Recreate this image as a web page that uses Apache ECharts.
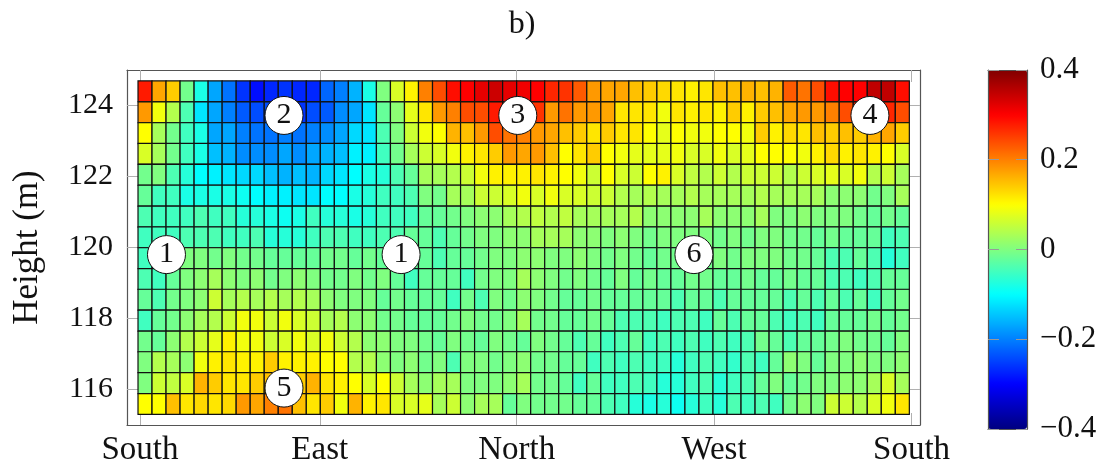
<!DOCTYPE html>
<html><head><meta charset="utf-8">
<script src="https://cdn.jsdelivr.net/npm/echarts@6/dist/echarts.min.js"></script>
<style>html,body{margin:0;padding:0;background:#fff}#c{width:1108px;height:467px}</style>
</head><body><div id="c"></div>
<script>
// Row centre heights (m), top row first
const heights = [124.40, 123.81, 123.22, 122.64, 122.05, 121.46, 120.87, 120.29,
                 119.70, 119.11, 118.53, 117.94, 117.35, 116.77, 116.18, 115.59];
const rowHeight = 0.587;
// values per row, 55 columns (South -> East -> North -> West -> South)
const row_124_40 = [.28,.17,.14,-.01,-.08,-.17,-.21,-.26,-.29,-.27,-.26, -.27,-.27,-.22,-.20,-.16,-.08,0,.07,.11,.20,.24, .29,.30,.32,.34,.32,.31,.30,.27,.26,.23,.18, .17,.17,.15,.14,.13,.12,.11,.12,.15,.15,.16, .15,.16,.23,.21,.24,.29,.30,.30,.35,.35,.29];
const row_123_81 = [.18,.09,.04,-.04,-.12,-.17,-.20,-.23,-.24,-.24,-.23, -.26,-.24,-.23,-.19,-.17,-.12,-.02,.01,.08,.12,.18, .20,.24,.24,.28,.27,.26,.26,.18,.21,.18,.18, .17,.12,.12,.12,.09,.12,.11,.12,.11,.14,.11, .14,.15,.17,.18,.18,.20,.24,.27,.27,.27,.24];
const row_123_22 = [.10,.03,-.01,-.05,-.08,-.17,-.17,-.20,-.21,-.21,-.20, -.21,-.20,-.19,-.17,-.13,-.12,-.04,0,.06,.09,.10, .16,.15,.18,.24,.21,.20,.18,.17,.15,.14,.12, .14,.12,.12,.10,.08,.10,.09,.09,.10,.10,.09, .14,.11,.13,.12,.15,.14,.15,.14,.16,.17,.14];
const row_122_64 = [.07,.03,-.01,-.05,-.08,-.15,-.16,-.19,-.19,-.19,-.17, -.19,-.17,-.16,-.15,-.11,-.11,-.05,-.01,.03,.06,.07, .09,.11,.12,.14,.18,.17,.18,.15,.10,.12,.14, .10,.09,.08,.08,.08,.09,.07,.07,.09,.07,.08, .10,.10,.10,.09,.11,.13,.11,.12,.11,.10,.07];
const row_122_05 = [-.01,0,-.04,-.07,-.10,-.11,-.12,-.13,-.13,-.15,-.16, -.15,-.16,-.13,-.12,-.10,-.08,-.07,-.04,-.02,.03,.03, .04,.06,.09,.11,.11,.11,.12,.11,.10,.09,.06, .10,.07,.06,.10,.11,.07,.05,.04,.06,.04,.06, .06,.06,.04,.06,.07,.08,.07,.09,.04,.06,.03];
const row_121_46 = [-.02,-.05,-.05,-.08,-.08,-.08,-.08,-.09,-.10,-.11,-.11, -.12,-.12,-.10,-.10,-.08,-.07,-.05,-.05,-.04,0,-.01, .03,.03,.06,.06,.07,.09,.07,.09,.07,.07,.06, .06,.04,.03,.04,.03,.03,.04,.03,.03,.03,.03, .04,.03,.03,.03,.03,.01,.01,.01,-.01,0,.03];
const row_120_87 = [-.04,-.05,-.05,-.05,-.04,-.05,-.05,-.07,-.07,-.08,-.09, -.08,-.05,-.07,-.07,-.08,-.07,-.05,-.05,-.05,-.02,-.02, -.01,0,.01,.01,.03,.04,.05,.04,.05,.03,.03, .03,.03,.04,.01,.01,.01,.01,.03,.01,.01,.01, .03,0,0,.01,0,0,0,-.01,-.02,-.01,-.02];
const row_120_29 = [-.05,-.05,-.05,-.04,-.04,-.04,-.05,-.05,-.04,-.07,-.07, -.07,-.05,-.04,-.04,-.05,-.05,-.04,-.04,-.02,-.02,-.04, -.02,-.01,0,0,.01,.01,.03,.03,.03,.01,.01, 0,.01,0,-.01,0,0,0,0,-.01,0,-.01, 0,0,-.01,-.01,-.02,-.01,-.02,-.02,-.02,-.05,-.04];
const row_119_70 = [-.05,-.05,-.02,0,0,-.01,0,-.01,-.01,-.02,-.02, -.02,-.02,-.01,-.01,-.02,-.01,-.02,-.02,-.02,-.02,-.04, -.02,-.02,-.01,0,0,.01,.01,0,0,.01,0, -.01,0,-.01,-.02,-.01,-.01,-.01,-.01,0,-.01,0, 0,0,-.01,-.01,-.02,-.04,-.04,-.02,-.04,-.07,-.05];
const row_119_11 = [-.04,-.05,-.02,0,.01,.03,.01,0,.01,-.01,0, .01,0,-.01,-.01,0,-.01,0,-.02,-.05,-.02,-.02, -.02,-.05,-.01,0,0,.03,.01,0,-.01,0,-.01, -.02,0,-.02,-.01,-.02,-.02,-.01,-.01,-.02,-.02,-.01, -.02,-.02,-.01,-.02,-.02,-.04,-.04,-.05,-.04,-.02,-.02];
const row_118_53 = [-.02,-.04,-.01,0,.01,.06,.03,.04,.03,.04,.03, .04,.03,.01,0,0,0,-.02,-.01,-.02,-.02,-.02, -.05,-.01,-.04,0,-.01,.01,0,-.01,-.02,-.02,-.01, -.02,-.02,-.02,-.02,-.02,-.04,-.02,-.02,-.04,-.02,-.02, -.02,-.02,-.04,-.02,-.04,-.02,-.04,-.02,-.05,-.02,-.01];
const row_117_94 = [-.05,-.02,-.01,.01,.03,.04,.06,.09,.09,.06,.09, .07,.06,.03,.04,.01,.01,-.01,-.01,-.02,-.02,-.02, -.01,0,-.01,-.01,0,.03,-.01,-.01,-.02,-.02,-.01, -.02,-.04,-.04,-.04,-.05,-.04,-.04,-.05,-.02,-.04,-.02, -.02,-.04,-.05,-.04,-.05,-.02,-.02,-.02,-.01,-.02,-.01];
const row_117_35 = [-.01,-.02,.01,.04,.06,.08,.11,.09,.09,.06,.07, .09,.07,.09,.06,.04,.01,.01,0,0,-.01,-.02, 0,-.01,-.02,0,-.01,-.02,0,-.01,-.02,-.04,-.02, -.05,-.04,-.02,-.05,-.04,-.05,-.04,-.05,-.04,-.05,-.04, -.01,-.02,-.04,-.02,-.02,-.01,0,-.01,-.01,-.02,0];
const row_116_77 = [0,.04,.03,.01,.09,.11,.12,.11,.11,.14,.11, .11,.11,.10,.10,.04,.04,.01,0,.01,-.01,0, -.04,0,0,-.01,0,.01,-.01,-.01,-.02,-.02,-.05, -.04,-.05,-.04,-.05,-.05,-.07,-.05,-.04,-.05,-.06,-.04, -.05,-.02,.01,0,-.02,0,0,.01,0,0,.01];
const row_116_18 = [0,.06,.05,.07,.16,.14,.12,.12,.14,.15,.16, .14,.16,.12,.11,.10,.07,.10,.06,.03,.01,.03, .03,0,0,0,.01,.03,-.01,-.01,-.02,-.05,-.02, -.05,-.05,-.04,-.05,-.07,-.07,-.05,-.04,-.07,-.05,-.04, -.02,0,-.02,-.01,0,0,.01,.01,.03,.07,.03];
const row_115_59 = [.10,.10,.15,.12,.13,.12,.13,.18,.17,.20,.21, .15,.12,.14,.09,.16,.11,.12,.07,.07,.08,.03, .06,.01,.03,.03,-.02,0,-.01,-.01,-.01,-.02,-.02, -.04,-.05,-.07,-.08,-.07,-.09,-.07,-.05,-.07,-.04,-.05, -.04,-.05,-.01,.01,0,.06,.06,.04,.07,.09,.12];
const rows = [row_124_40, row_123_81, row_123_22, row_122_64, row_122_05, row_121_46, row_120_87, row_120_29,
              row_119_70, row_119_11, row_118_53, row_117_94, row_117_35, row_116_77, row_116_18, row_115_59];

const xTickPos = [0.14, 12.96, 27.0, 41.07, 55.16];
const xTickLabels = ['South', 'East', 'North', 'West', 'South'];
const yTickValues = [116, 118, 120, 122, 124];
const jetColors = ['#000080', '#0000ff', '#0080ff', '#00ffff', '#80ff80', '#ffff00', '#ff8000', '#ff0000', '#800000'];

const markerNames = ['2', '3', '4', '1', '1', '6', '5'];
const markerX = [10.41, 27.08, 52.19, 2.03, 18.76, 39.64, 10.41];
const markerY = [123.72, 123.72, 123.72, 119.80, 119.80, 119.80, 116.04];

const cells = [];
rows.forEach((r, j) => r.forEach((v, i) => cells.push([i + 0.5, heights[j], v])));
const markers = markerNames.map((n, k) => ({ name: n, value: [markerX[k], markerY[k]] }));

const FONT = 'Liberation Serif';
const frame = { color: '#555', width: 1.2 };
const tickStyle = { color: '#b0b0b0', width: 1 };
const xMin = -0.785, xMax = 55.76;

function nearestIdx(arr, v) {
  let b = 0; arr.forEach((a, k) => { if (Math.abs(a - v) < Math.abs(arr[b] - v)) b = k; }); return b;
}
function fmtMinus(v) { return (v < 0 ? '\u2212' : '') + String(Math.abs(+v.toFixed(1))); }

const chart = echarts.init(document.getElementById('c'), null, { renderer: 'canvas' });
chart.setOption({
  animation: false,
  title: { text: 'b)', left: 517, top: 4, textAlign: 'center',
    textStyle: { fontFamily: FONT, fontSize: 32, fontWeight: 'normal', color: '#111' } },
  grid: [
    { left: 127, top: 70, width: 793, height: 358, containLabel: false },
    { left: 988, top: 70, width: 39, height: 359, containLabel: false }
  ],
  xAxis: [
    { type: 'value', gridIndex: 0, min: xMin, max: xMax, position: 'bottom',
      axisLine: { show: true, onZero: false, lineStyle: frame },
      axisTick: { show: true, inside: true, length: 12, customValues: xTickPos, lineStyle: tickStyle },
      axisLabel: { show: true, customValues: xTickPos, margin: 9,
        formatter: v => xTickLabels[nearestIdx(xTickPos, v)],
        fontFamily: FONT, fontSize: 33, color: '#111' },
      splitLine: { show: false } },
    { type: 'value', gridIndex: 0, min: xMin, max: xMax, position: 'top',
      axisLine: { show: true, onZero: false, lineStyle: frame },
      axisTick: { show: true, inside: true, length: 12, customValues: xTickPos, lineStyle: tickStyle },
      axisLabel: { show: false }, splitLine: { show: false } },
    { type: 'value', gridIndex: 1, min: 0, max: 1, position: 'bottom', z: 6,
      axisLine: { show: true, onZero: false, lineStyle: frame },
      axisTick: { show: false }, axisLabel: { show: false }, splitLine: { show: false } },
    { type: 'value', gridIndex: 1, min: 0, max: 1, position: 'top', z: 6,
      axisLine: { show: true, onZero: false, lineStyle: frame },
      axisTick: { show: false }, axisLabel: { show: false }, splitLine: { show: false } }
  ],
  yAxis: [
    { type: 'value', gridIndex: 0, min: 115, max: 125, position: 'left',
      name: 'Height (m)', nameLocation: 'middle', nameGap: 82, nameRotate: 90,
      nameTextStyle: { fontFamily: FONT, fontSize: 35, color: '#111' },
      axisLine: { show: true, onZero: false, lineStyle: frame },
      axisTick: { show: true, inside: true, length: 12, customValues: yTickValues, lineStyle: tickStyle },
      axisLabel: { show: true, customValues: yTickValues, margin: 14,
        fontFamily: FONT, fontSize: 30, color: '#111' },
      splitLine: { show: false } },
    { type: 'value', gridIndex: 0, min: 115, max: 125, position: 'right',
      axisLine: { show: true, onZero: false, lineStyle: frame },
      axisTick: { show: true, inside: true, length: 12, customValues: yTickValues, lineStyle: tickStyle },
      axisLabel: { show: false }, splitLine: { show: false } },
    { type: 'value', gridIndex: 1, min: -0.4, max: 0.4, interval: 0.2, position: 'right', z: 6,
      axisLine: { show: true, onZero: false, lineStyle: frame },
      axisTick: { show: true, inside: true, length: 11, lineStyle: { color: '#999', width: 1 } },
      axisLabel: { show: true, margin: 13, formatter: fmtMinus,
        fontFamily: FONT, fontSize: 31, color: '#111' },
      splitLine: { show: false } },
    { type: 'value', gridIndex: 1, min: -0.4, max: 0.4, interval: 0.2, position: 'left', z: 6,
      axisLine: { show: true, onZero: false, lineStyle: frame },
      axisTick: { show: true, inside: true, length: 11, lineStyle: { color: '#999', width: 1 } },
      axisLabel: { show: false }, splitLine: { show: false } }
  ],
  visualMap: {
    type: 'continuous', seriesIndex: 0, dimension: 2, min: -0.4, max: 0.4,
    orient: 'vertical', left: 988, top: 70, itemWidth: 39, itemHeight: 359,
    calculable: false, hoverLink: false, padding: 0, text: null, show: true,
    inRange: { color: jetColors }
  },
  series: [
    { type: 'custom', xAxisIndex: 0, yAxisIndex: 0, data: cells,
      encode: { x: 0, y: 1 }, z: 3,
      renderItem: function (params, api) {
        const cx = api.value(0), cy = api.value(1);
        const p0 = api.coord([cx - 0.5, cy + rowHeight / 2]);
        const p1 = api.coord([cx + 0.5, cy - rowHeight / 2]);
        return { type: 'rect',
          shape: { x: p0[0], y: p0[1], width: p1[0] - p0[0], height: p1[1] - p0[1] },
          style: { fill: api.visual('color'), stroke: '#111', lineWidth: 1.2 } };
      } },
    { type: 'scatter', xAxisIndex: 0, yAxisIndex: 0, data: markers, z: 5,
      symbol: 'circle', symbolSize: 38,
      itemStyle: { color: '#fff', borderColor: '#111', borderWidth: 1, opacity: 1 },
      label: { show: true, position: 'inside', formatter: p => p.name,
        fontFamily: FONT, fontSize: 30, color: '#111' } }
  ]
});
</script></body></html>
